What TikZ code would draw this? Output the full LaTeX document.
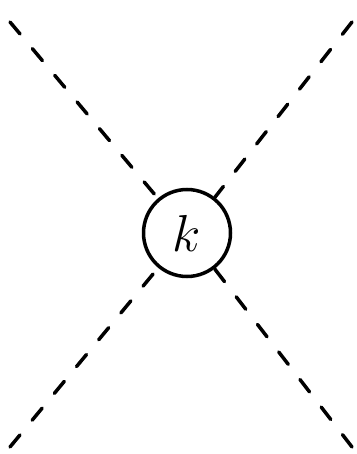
\RequirePackage{fix-cm}
\documentclass[tikz,border=0pt]{standalone}
\usepackage{tikz}
\usetikzlibrary{positioning}

\begin{document}
\begin{tikzpicture}[
  x=0.5pt, y=-0.5pt,
  vertex/.style={circle, draw, line width=1.75pt, minimum size=43.5pt, inner sep=0pt,
                 fill=white, font=\fontsize{26}{30}\selectfont},
  scalar/.style={line width=1.75pt, line cap=round, dash pattern=on 7.8pt off 9.6pt},
]
  \useasboundingbox (0,0) rectangle (357,454);

  % Vertex
  \node[vertex] (k) at (187,233) {$k$};

  % Externe Beine
  \coordinate (tl) at (10,22);
  \coordinate (tr) at (352,22);
  \coordinate (bl) at (10,447);
  \coordinate (br) at (352,447);

  \draw[scalar] (tl) -- (k);
  \draw[scalar] (tr) -- (k);
  \draw[scalar] (bl) -- (k);
  \draw[scalar] (br) -- (k);
\end{tikzpicture}
\end{document}
